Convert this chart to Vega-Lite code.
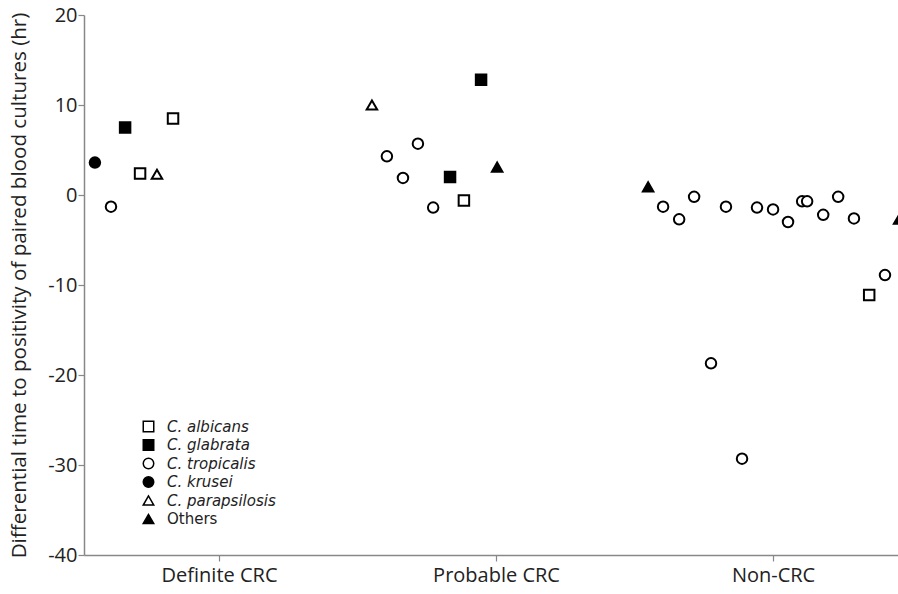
{
  "$schema": "https://vega.github.io/schema/vega-lite/v6.json",
  "width": 814,
  "height": 540,
  "autosize": {"type": "none"},
  "padding": {"left": 84, "top": 15, "right": 0, "bottom": 39},
  "background": "white",
  "config": {
    "view": {"stroke": null},
    "font": "Open Sans",
    "axis": {"grid": false, "domainColor": "#888", "domainWidth": 1.5, "tickColor": "#888", "tickWidth": 1.2, "labelColor": "#222", "titleColor": "#222", "labelFont": "Open Sans", "titleFont": "Open Sans"},
    "legend": {"labelFont": "DejaVu Sans", "labelFontSize": 15, "labelColor": "#222", "symbolSize": 110, "rowPadding": 1.5, "labelOffset": 11}
  },
  "datasets": {
    "pts": [
      {"group": "Definite CRC", "pos": 0.552, "value": 3.6, "species": "C. krusei"},
      {"group": "Definite CRC", "pos": 0.610, "value": -1.3, "species": "C. tropicalis"},
      {"group": "Definite CRC", "pos": 0.661, "value": 7.5, "species": "C. glabrata"},
      {"group": "Definite CRC", "pos": 0.715, "value": 2.4, "species": "C. albicans"},
      {"group": "Definite CRC", "pos": 0.776, "value": 2.3, "species": "C. parapsilosis"},
      {"group": "Definite CRC", "pos": 0.834, "value": 8.5, "species": "C. albicans"},
      {"group": "Probable CRC", "pos": 1.552, "value": 10.0, "species": "C. parapsilosis"},
      {"group": "Probable CRC", "pos": 1.606, "value": 4.3, "species": "C. tropicalis"},
      {"group": "Probable CRC", "pos": 1.664, "value": 1.9, "species": "C. tropicalis"},
      {"group": "Probable CRC", "pos": 1.718, "value": 5.7, "species": "C. tropicalis"},
      {"group": "Probable CRC", "pos": 1.773, "value": -1.4, "species": "C. tropicalis"},
      {"group": "Probable CRC", "pos": 1.834, "value": 2.0, "species": "C. glabrata"},
      {"group": "Probable CRC", "pos": 1.884, "value": -0.6, "species": "C. albicans"},
      {"group": "Probable CRC", "pos": 1.946, "value": 12.8, "species": "C. glabrata"},
      {"group": "Probable CRC", "pos": 2.004, "value": 3.1, "species": "Others"},
      {"group": "Non-CRC", "pos": 2.549, "value": 0.9, "species": "Others"},
      {"group": "Non-CRC", "pos": 2.603, "value": -1.3, "species": "C. tropicalis"},
      {"group": "Non-CRC", "pos": 2.661, "value": -2.7, "species": "C. tropicalis"},
      {"group": "Non-CRC", "pos": 2.715, "value": -0.2, "species": "C. tropicalis"},
      {"group": "Non-CRC", "pos": 2.776, "value": -18.7, "species": "C. tropicalis"},
      {"group": "Non-CRC", "pos": 2.830, "value": -1.3, "species": "C. tropicalis"},
      {"group": "Non-CRC", "pos": 2.888, "value": -29.3, "species": "C. tropicalis"},
      {"group": "Non-CRC", "pos": 2.942, "value": -1.4, "species": "C. tropicalis"},
      {"group": "Non-CRC", "pos": 3.000, "value": -1.6, "species": "C. tropicalis"},
      {"group": "Non-CRC", "pos": 3.054, "value": -3.0, "species": "C. tropicalis"},
      {"group": "Non-CRC", "pos": 3.105, "value": -0.7, "species": "C. tropicalis"},
      {"group": "Non-CRC", "pos": 3.123, "value": -0.7, "species": "C. tropicalis"},
      {"group": "Non-CRC", "pos": 3.181, "value": -2.2, "species": "C. tropicalis"},
      {"group": "Non-CRC", "pos": 3.235, "value": -0.2, "species": "C. tropicalis"},
      {"group": "Non-CRC", "pos": 3.292, "value": -2.6, "species": "C. tropicalis"},
      {"group": "Non-CRC", "pos": 3.347, "value": -11.1, "species": "C. albicans"},
      {"group": "Non-CRC", "pos": 3.404, "value": -8.9, "species": "C. tropicalis"},
      {"group": "Non-CRC", "pos": 3.455, "value": -2.7, "species": "Others"}
    ]
  },
  "layer": [
    {
      "mark": {"type": "rule", "color": "#888", "strokeWidth": 1.5},
      "encoding": {"y": {"datum": 20, "type": "quantitative", "scale": {"domain": [-40, 20]}}}
    },
    {
      "mark": {"type": "rule", "color": "#999", "strokeWidth": 1, "strokeDash": [2, 2]},
      "encoding": {"y": {"datum": 1, "type": "quantitative"}}
    },
    {
      "data": {"name": "pts"},
      "mark": {"type": "point", "filled": true, "stroke": "black", "strokeWidth": 2, "size": 110, "opacity": 1},
      "encoding": {
        "x": {
          "field": "pos", "type": "quantitative",
          "scale": {"domain": [0.5126, 3.451], "nice": false, "zero": false},
          "axis": {"values": [1, 2, 3], "labelExpr": "datum.value == 1 ? 'Definite CRC' : datum.value == 2 ? 'Probable CRC' : 'Non-CRC'", "title": null, "labelFontSize": 20, "tickSize": 6, "labelPadding": 4}
        },
        "y": {
          "field": "value", "type": "quantitative",
          "scale": {"domain": [-40, 20], "nice": false},
          "axis": {"values": [-40, -30, -20, -10, 0, 10, 20], "labelExpr": "datum.value < 0 ? '-' + abs(datum.value) : '' + datum.value", "title": "Differential time to positivity of paired blood cultures (hr)", "titleFontSize": 20.6, "titleFontWeight": "normal", "labelFontSize": 20, "tickSize": 6, "labelPadding": 1, "titleX": -55}
        },
        "shape": {
          "field": "species", "type": "nominal",
          "scale": {"domain": ["C. albicans", "C. glabrata", "C. tropicalis", "C. krusei", "C. parapsilosis", "Others"], "range": ["square", "square", "circle", "circle", "triangle-up", "triangle-up"]},
          "legend": {"title": null, "orient": "none", "legendX": 57, "legendY": 404, "labelOffset": 11,
            "labelFontStyle": {"expr": "datum.label === 'Others' ? 'normal' : 'italic'"},
            "encode": {"symbols": {"update": {"stroke": {"value": "black"}, "strokeWidth": {"value": 1.8}}}}}
        },
        "fill": {
          "field": "species", "type": "nominal",
          "scale": {"domain": ["C. albicans", "C. glabrata", "C. tropicalis", "C. krusei", "C. parapsilosis", "Others"], "range": ["white", "black", "white", "black", "white", "black"]},
          "legend": {"title": null, "orient": "none", "legendX": 57, "legendY": 404, "labelOffset": 11,
            "labelFontStyle": {"expr": "datum.label === 'Others' ? 'normal' : 'italic'"},
            "encode": {"symbols": {"update": {"stroke": {"value": "black"}, "strokeWidth": {"value": 1.8}}}}}
        }
      }
    }
  ]
}
